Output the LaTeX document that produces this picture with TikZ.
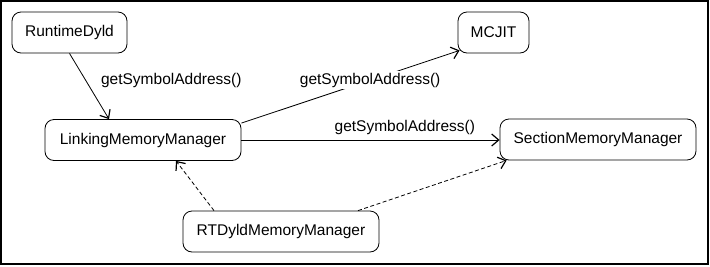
\documentclass[tikz,border=0pt]{standalone}
\usepackage{fontspec}
\setmainfont{Liberation Sans}
\usetikzlibrary{arrows.meta}
\begin{document}
\begin{tikzpicture}[x=1pt,y=-1pt,
  font=\fontsize{15.5}{18}\selectfont,
  box/.style={draw, rounded corners=9pt, line width=0.8pt, minimum height=41pt, inner sep=0pt},
  link/.style={line width=0.8pt, -{Straight Barb[length=7pt,width=12pt,line width=1.2pt]}},
  dep/.style={link, dashed, dash pattern=on 4pt off 2.5pt},
  lbl/.style={inner sep=1pt}]
  % frame
  \draw[line width=1.5pt] (1,1) rectangle (708,264);
  \useasboundingbox (0,0) rectangle (710,266);

  % components
  \node[box, minimum width=115pt] (rt)   at (69.5,32.5) {RuntimeDyld};
  \node[box, minimum width=71pt]  (jit)  at (493.5,32.5) {MCJIT};
  \node[box, minimum width=196pt] (lmm)  at (143,140) {LinkingMemoryManager};
  \node[box, minimum width=196pt] (smm)  at (598,139.5) {SectionMemoryManager};
  \node[box, minimum width=196pt] (rtd)  at (281,231.5) {RTDyldMemoryManager};

  % calls
  \draw[link] (rt.south) -- ([xshift=-34pt]lmm.north)
    node[lbl, pos=0.41, anchor=west, xshift=14pt] (l1) {getSymbolAddress()};
  \draw[link] ([yshift=-4pt]lmm.north east) -- ([xshift=2pt,yshift=3pt]jit.south west)
    node[lbl, pos=0.59, fill=white, inner sep=2pt] (l2) {getSymbolAddress()};
  \draw[link] (lmm.east) -- (lmm.east -| smm.west)
    node[lbl, pos=0.633, anchor=south, yshift=4pt] (l3) {getSymbolAddress()};

  % inheritance
  \draw[dep] ([xshift=-67pt]rtd.north) -- ([xshift=33pt]lmm.south);
  \draw[dep] ([xshift=77pt]rtd.north) -- ([xshift=7pt]smm.south west);
\end{tikzpicture}
\end{document}
